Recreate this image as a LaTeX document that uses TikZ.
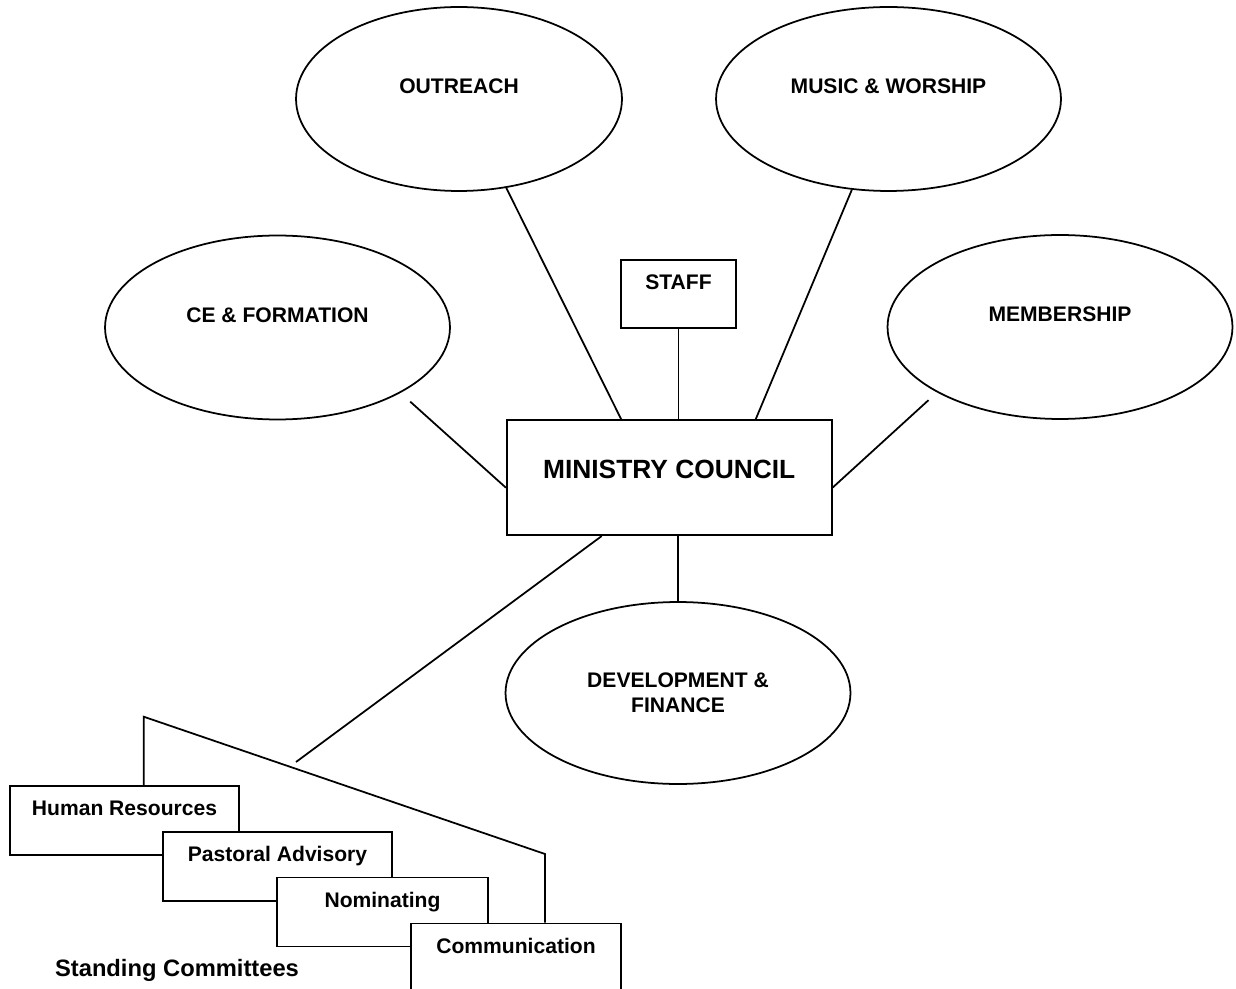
\documentclass[tikz,border=0pt]{standalone}
\usepackage{fontspec}
\setmainfont{Liberation Sans}
\usetikzlibrary{shapes.geometric,positioning}

\begin{document}
\begin{tikzpicture}[x=0.02cm, y=-0.02cm, line width=1pt,
    every node/.style={font=\bfseries\fontsize{12}{14.2}\selectfont},
    bubble/.style={ellipse, draw, minimum width=6.9cm, minimum height=3.68cm, inner sep=0pt},
    raised/.style={text height=0.32cm, text depth=0.54cm},
    unit/.style={draw, fill=white, anchor=north, inner sep=0pt, minimum height=1.38cm,
                 text height=0.59cm, text depth=0.79cm}]
\useasboundingbox (0,0) rectangle (1236,989);
\node[bubble, raised, minimum width=6.52cm] (outreach) at (459,99) {OUTREACH};
\node[bubble, raised] (music) at (888.5,99) {MUSIC \& WORSHIP};
\node[bubble, raised] (ce) at (277.5,327.5) {CE \& FORMATION};
\node[bubble, raised] (member) at (1060,327) {MEMBERSHIP};
\node[bubble, align=center, minimum height=3.64cm] (dev) at (678,693) {DEVELOPMENT \&\\FINANCE};
\node[unit, minimum width=2.3cm, minimum height=1.36cm, text depth=0.77cm] (staff) at (678.5,259) {STAFF};
\node[unit, minimum width=6.5cm, minimum height=2.3cm, text height=1.17cm, text depth=1.13cm,
      font=\bfseries\fontsize{15}{18}\selectfont] (mc) at (669.2,419.3) {MINISTRY COUNCIL};
\coordinate (sc) at (296,762);
\coordinate (bl) at (143.7,716.7);
\coordinate (br) at (545,854);
\draw (outreach.-62) -- ([xshift=-0.96cm]mc.north);
\draw (music.-112) -- ([xshift=1.73cm]mc.north);
\draw (staff.south) -- (staff.south |- mc.north);
\draw[shorten <=0.26cm] (ce.-28) -- ([yshift=-0.2cm]mc.west);
\draw[shorten <=0.23cm] (member.-152) -- ([yshift=-0.2cm]mc.east);
\draw (mc.south -| dev.north) -- (dev.north);
\draw ([xshift=-1.35cm]mc.south) -- (sc);
\node[unit, minimum width=4.58cm] (hr) at (124.5,785) {Human Resources};
\node[unit, minimum width=4.58cm] (pastoral) at (277.5,831) {Pastoral Advisory};
\node[unit, minimum width=4.22cm] (nominating) at (382.5,876.7) {Nominating};
\node[unit, minimum width=4.2cm] (comm) at (516,922.7) {Communication};
\draw (hr.north -| bl) -- (bl) -- (br) -- (br |- comm.north);
\node[font=\bfseries\fontsize{13.5}{16}\selectfont] (standing) at (177,970) {Standing Committees};
\end{tikzpicture}
\end{document}
